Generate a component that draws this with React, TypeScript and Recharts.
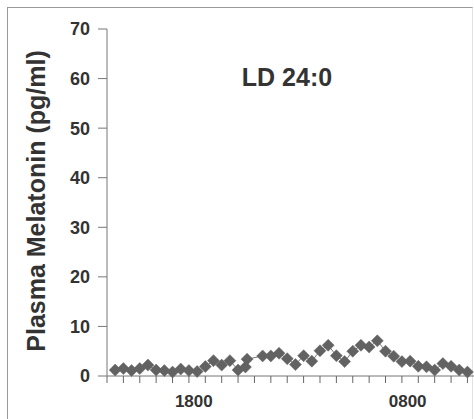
import { LineChart, Line, XAxis, YAxis } from 'recharts';

// sample times (hours from start of record) and plasma melatonin values
const hours = [
  0.5, 1.0, 1.5, 2.0, 2.5, 3.0, 3.5, 4.0, 4.5, 5.0, 5.5, 6.0, 6.5, 7.0, 7.5, 8.0,
  8.45, 8.55, 9.5, 10.0, 10.5, 11.0, 11.5, 12.0, 12.5, 13.0, 13.5, 14.0, 14.5, 15.0,
  15.5, 16.0, 16.5, 17.0, 17.5, 18.0, 18.5, 19.0, 19.5, 20.0, 20.5, 21.0, 21.5, 22.0,
];
const melatonin = [
  1.2, 1.5, 1.1, 1.5, 2.2, 1.2, 1.1, 0.8, 1.4, 1.1, 0.9, 1.9, 3.1, 2.2, 3.1, 1.2,
  1.8, 3.4, 4.05, 4.05, 4.6, 3.5, 2.3, 4.1, 3.0, 5.1, 6.2, 4.1, 2.9, 5.0,
  6.2, 5.85, 7.1, 5.0, 4.0, 2.9, 3.0, 1.95, 1.85, 1.2, 2.5, 1.95, 1.2, 0.8,
];
const hourTicks = [0, 1, 2, 3, 4, 5, 6, 7, 8, 9, 10, 11, 12, 13, 14, 15, 16, 17, 18, 19, 20, 21, 22];
const clockLabels = [
  { at: 5.3, text: '1800' },
  { at: 18.35, text: '0800' },
];
const yTicks = [0, 10, 20, 30, 40, 50, 60, 70];

const data = hours.map((t, i) => ({ t, v: melatonin[i] }));

const FONT = 'Arial, "Liberation Sans", sans-serif';
const INK = '#333';

const Diamond = (props: any) => {
  const { cx, cy } = props;
  if (cx == null || cy == null) return null;
  const r = 6;
  return (
    <polygon
      points={`${cx},${cy - r} ${cx + r},${cy} ${cx},${cy + r} ${cx - r},${cy}`}
      fill="#626262"
      stroke="#626262"
      strokeWidth={0.5}
    />
  );
};

const XTick = (props: any) => {
  const { x, y, payload } = props;
  const label = clockLabels.find(l => l.at === payload.value);
  if (label) {
    return (
      <text x={x} y={y + 31} textAnchor="middle" fontFamily={FONT} fontWeight="bold" fontSize={17} fill={INK}>
        {label.text}
      </text>
    );
  }
  return <line x1={x} x2={x} y1={y} y2={y + 7} stroke="#666" />;
};

export default function App() {
  const allTicks = [...hourTicks, ...clockLabels.map(l => l.at)];
  return (
    <div style={{ position: 'absolute', left: 0, top: 0, width: 474, height: 419, background: '#fff' }}>
      <div
        style={{
          position: 'absolute', left: 7, top: 7, width: 464, height: 420,
          borderLeft: '1px solid #999', borderTop: '1px solid #999', borderRight: '1px solid #e2e2e2',
        }}
      />
      <LineChart width={474} height={419} data={data} margin={{ top: 29, right: 0, left: 0, bottom: 0 }}>
        <XAxis
          dataKey="t"
          type="number"
          domain={[0, 22.4]}
          allowDataOverflow
          ticks={allTicks}
          interval={0}
          tickLine={false}
          tickSize={0}
          tickMargin={0}
          tick={<XTick />}
          stroke="#777"
          height={43}
        />
        <YAxis
          domain={[0, 70]}
          ticks={yTicks}
          interval={0}
          width={107}
          tickSize={9}
          tickMargin={8}
          stroke="#777"
          tick={{ fontFamily: FONT, fontWeight: 'bold', fontSize: 18, fill: INK }}
        />
        <Line
          dataKey="v"
          stroke="#777"
          strokeWidth={1}
          dot={<Diamond />}
          activeDot={false}
          isAnimationActive={false}
        />
      </LineChart>
      <svg width={474} height={419} style={{ position: 'absolute', left: 0, top: 0, pointerEvents: 'none' }}>
        <text x={287} y={86} textAnchor="middle" fontFamily={FONT} fontWeight="bold" fontSize={25} fill={INK}>
          LD 24:0
        </text>
        <text
          x={45}
          y={201}
          transform="rotate(-90 45 201)"
          textAnchor="middle"
          fontFamily={FONT}
          fontWeight="bold"
          fontSize={25}
          fill={INK}
        >
          Plasma Melatonin (pg/ml)
        </text>
      </svg>
    </div>
  );
}
